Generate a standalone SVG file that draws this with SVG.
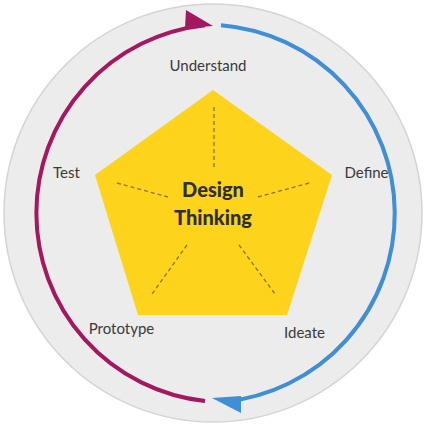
<svg xmlns="http://www.w3.org/2000/svg" width="426" height="428" viewBox="0 0 426 428">
<style>
.lbl{font-family:Lato,"Open Sans","Liberation Sans",sans-serif;font-size:15px;fill:#3a3a3a;text-anchor:middle}
.title{font-family:Lato,"Open Sans","Liberation Sans",sans-serif;font-size:20px;font-weight:900;fill:#2f2f35;text-anchor:middle}
.dash{stroke:#8a7430;stroke-width:1.3;stroke-dasharray:4 3;fill:none}
.arc{fill:none;stroke-width:4}
</style>
<rect width="426" height="428" fill="#ffffff"/>
<g id="background">
<circle cx="213" cy="213" r="209" fill="#ececec" stroke="#d4d4d4" stroke-width="1.5"/>
</g>
<g id="connectors">
<path class="arc" stroke="#a3185f" d="M205 401 A189 189 0 0 1 205 25.2"/>
<polygon fill="#a3185f" points="186,10 213,26 185,28"/>
<path class="arc" stroke="#3f8ed6" d="M221 25.2 A189 189 0 0 1 224 401.7"/>
<polygon fill="#3f8ed6" points="212,398 241,413 241,396"/>
</g>
<g id="pentagon">
<polygon fill="#fdd31b" points="213,90 332,175 287,315 138,315 95,175"/>
<line class="dash" x1="214" y1="107" x2="214" y2="168"/>
<line class="dash" x1="117" y1="183" x2="168" y2="197"/>
<line class="dash" x1="309" y1="183" x2="258" y2="197"/>
<line class="dash" x1="187" y1="245" x2="152" y2="294"/>
<line class="dash" x1="239" y1="245" x2="275" y2="294"/>
<text class="title" x="213" y="197">Design</text>
<text class="title" x="213" y="225">Thinking</text>
</g>
<g id="node-understand"><text class="lbl" x="208" y="71">Understand</text></g>
<g id="node-define"><text class="lbl" x="366.5" y="178">Define</text></g>
<g id="node-ideate"><text class="lbl" x="304.5" y="338">Ideate</text></g>
<g id="node-prototype"><text class="lbl" x="121.5" y="334">Prototype</text></g>
<g id="node-test"><text class="lbl" x="66.5" y="178">Test</text></g>
</svg>
